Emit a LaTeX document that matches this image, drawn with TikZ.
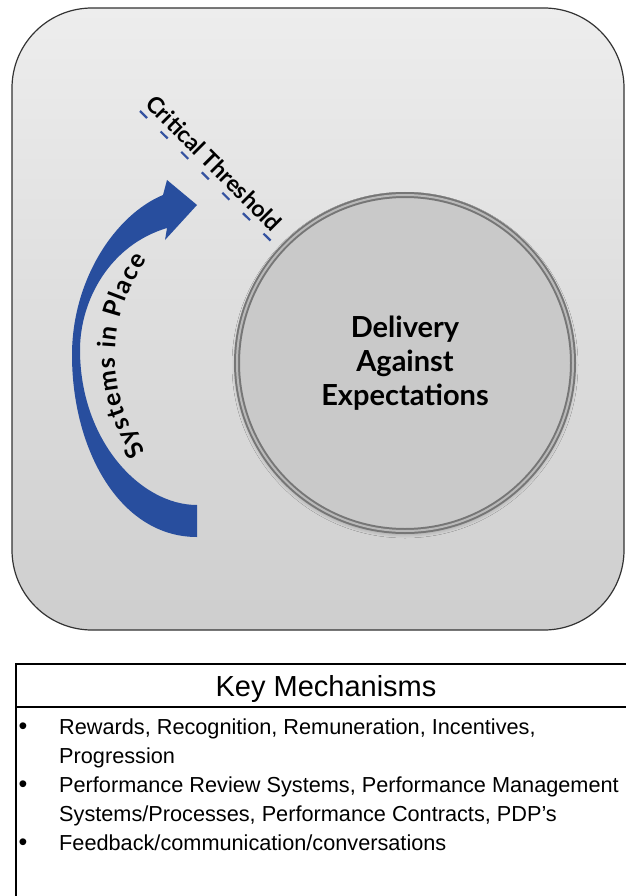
\documentclass[tikz,border=0pt]{standalone}
\usepackage{fontspec}
\setmainfont{Liberation Sans}
\newfontfamily\latofont{Lato}
\usetikzlibrary{decorations.text,shadows.blur}
\definecolor{arrowblue}{RGB}{40,78,158}
\definecolor{dashblue}{RGB}{52,82,160}
\definecolor{bgtop}{RGB}{237,237,237}
\definecolor{bgmid}{RGB}{231,231,231}
\definecolor{bgbot}{RGB}{206,206,206}
\definecolor{ringdark}{RGB}{118,118,118}
\definecolor{ringlight}{RGB}{185,185,185}
\definecolor{circfill}{RGB}{201,201,201}
\tikzset{
  bodytext/.style={anchor=base west, inner sep=0pt, font=\fontsize{21.7}{21.7}\selectfont},
  bulletmark/.style={anchor=base, inner sep=0pt, font=\fontsize{25}{25}\selectfont},
  tableline/.style={line width=2pt, black},
}
\begin{document}
\begin{tikzpicture}[x=1pt,y=-1pt]
\useasboundingbox (0,0) rectangle (625,896);
\fill[white] (0,0) rectangle (625,896);
% background panel
\shade[rounded corners=80pt, top color=bgtop, middle color=bgmid, bottom color=bgbot] (12,8) rectangle (624,630);
\draw[rounded corners=80pt, line width=1.2pt, black!80] (12,8) rectangle (624,630);
% central circle
\node[circle, minimum size=336pt, inner sep=0pt, fill=circfill, draw=ringdark, line width=2pt,
      double=ringlight, double distance=2pt,
      blur shadow={shadow xshift=0pt, shadow yshift=-2pt, shadow blur radius=5pt, shadow opacity=35},
      align=center, font=\latofont\bfseries\fontsize{29}{34}\selectfont]
      (deliv) at (405,363) {Delivery\\Against\\Expectations};
% curved arrow
\fill[arrowblue] (197,537) .. controls (120,537) and (72,450) .. (72,355)
  .. controls (72,280) and (115,215) .. (163,195) -- (167,180) -- (197,205) -- (165,240) -- (167,228)
  .. controls (110,245) and (80,300) .. (80,350)
  .. controls (80,440) and (140,505) .. (197,505) -- cycle;
% text along the arc
\path[decorate, decoration={text along path, text align=fit to path,
   text={|\latofont\bfseries\fontsize{25}{25}\selectfont|Systems in Place}}]
   (276,357) ++(144:161) arc[start angle=144, end angle=217, radius=161];
% critical threshold
\coordinate (thA) at (140,111);
\coordinate (thB) at (273,243);
\draw[dashblue, line width=2.2pt, dash pattern=on 10pt off 19pt] (thA) -- (thB);
\node[rotate=-45, inner sep=0pt, font=\latofont\bfseries\fontsize{23}{23}\selectfont] (crit) at (214,163) {Critical Threshold};
% table
\draw[tableline] (16,898) -- (16,664) -- (628,664);
\draw[tableline] (16,707) -- (628,707);
\node[anchor=base, inner sep=0pt, font=\fontsize{29}{29}\selectfont] (keymech) at (326,696) {Key Mechanisms};
\node[bulletmark] (b1) at (23,734.5) {•};
\node[bodytext] (t1) at (59,734.5) {Rewards, Recognition, Remuneration, Incentives,};
\node[bodytext] (t1b) at (59,763.5) {Progression};
\node[bulletmark] (b2) at (23,792.5) {•};
\node[bodytext] (t2) at (59,792.5) {Performance Review Systems, Performance Management};
\node[bodytext] (t2b) at (59,821.5) {Systems/Processes, Performance Contracts, PDP’s};
\node[bulletmark] (b3) at (23,850.5) {•};
\node[bodytext] (t3) at (59,850.5) {Feedback/communication/conversations};
\end{tikzpicture}
\end{document}
